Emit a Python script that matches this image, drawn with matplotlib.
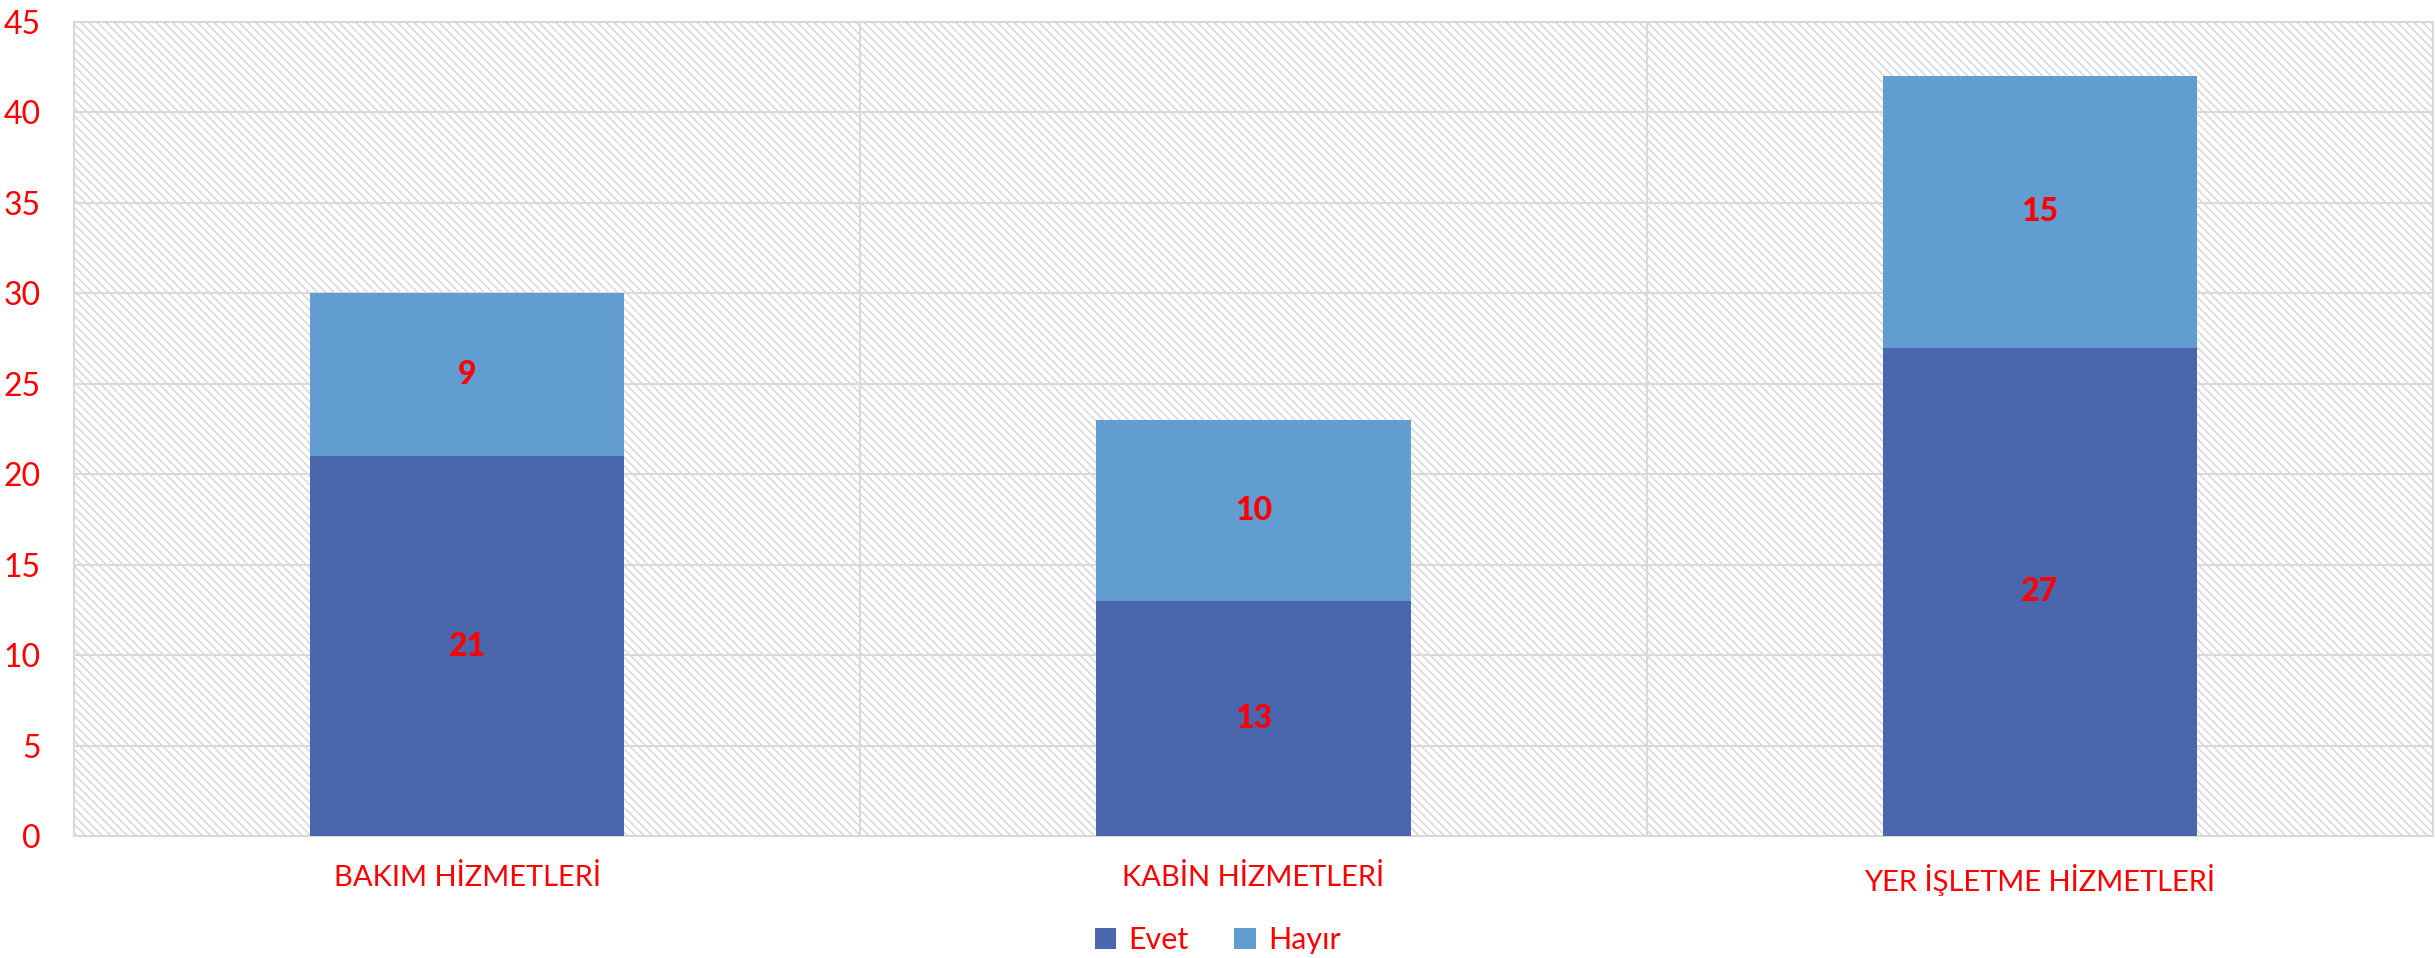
import matplotlib
matplotlib.use("Agg")
import matplotlib.pyplot as plt
import numpy as np

plt.rcParams['hatch.color'] = '#d4d4d4'
plt.rcParams['hatch.linewidth'] = 1.0
plt.rcParams['font.family'] = ['Lato', 'DejaVu Sans']

categories = ["BAKIM HİZMETLERİ", "KABİN HİZMETLERİ", "YER İŞLETME HİZMETLERİ"]
evet = [21, 13, 27]
hayir = [9, 10, 15]
yticks = [0, 5, 10, 15, 20, 25, 30, 35, 40, 45]

c_evet = "#4A67AD"
c_hayir = "#629DD1"
red = "#FF0000"
grid_c = "#d9d9d9"

fig = plt.figure(figsize=(24.35, 9.58), dpi=100)
ax = fig.add_axes([74/2435, 1-836/958, (2433-74)/2435, (836-22)/958])

ax.patch.set_facecolor("white")
ax.patch.set_hatch("\\" * 4)
ax.patch.set_edgecolor("#d4d4d4")

x = np.arange(len(categories))
w = 0.4
b1 = ax.bar(x, evet, w, color=c_evet, zorder=3)
b2 = ax.bar(x, hayir, w, bottom=evet, color=c_hayir, zorder=3)

for xi, e, h in zip(x, evet, hayir):
    ax.text(xi, e/2, str(e), ha="center", va="center", color=red, fontsize=23, fontweight="black", zorder=4)
    ax.text(xi, e + h/2, str(h), ha="center", va="center", color=red, fontsize=23, fontweight="black", zorder=4)

ax.set_xlim(-0.5, 2.5)
ax.set_ylim(0, 45)
ax.set_yticks(yticks)
ax.set_yticklabels([str(v) for v in yticks])
ax.set_xticks(x)
ax.set_xticklabels(categories)
ax.set_xticks([0.5, 1.5], minor=True)
ax.tick_params(axis="both", which="both", length=0)
ax.tick_params(axis="y", pad=24, labelsize=23, labelcolor=red)
ax.tick_params(axis="x", pad=20, labelsize=21, labelcolor=red)
ax.grid(axis="y", which="major", color=grid_c, linewidth=1.5, zorder=1)
ax.grid(axis="x", which="minor", color=grid_c, linewidth=1.5, zorder=1)
ax.grid(axis="x", which="major", visible=False)
ax.set_axisbelow(True)
for s in ax.spines.values():
    s.set_color(grid_c)
    s.set_linewidth(1.5)

leg = fig.legend([b1, b2], ["Evet", "Hayır"], loc="center", bbox_to_anchor=(0.5, 1-940/958),
                 ncol=2, frameon=False, fontsize=22, handlelength=0.7, handleheight=0.7,
                 handletextpad=0.4, columnspacing=1.5)
for t in leg.get_texts():
    t.set_color(red)

fig.savefig("out.png", dpi=100)
